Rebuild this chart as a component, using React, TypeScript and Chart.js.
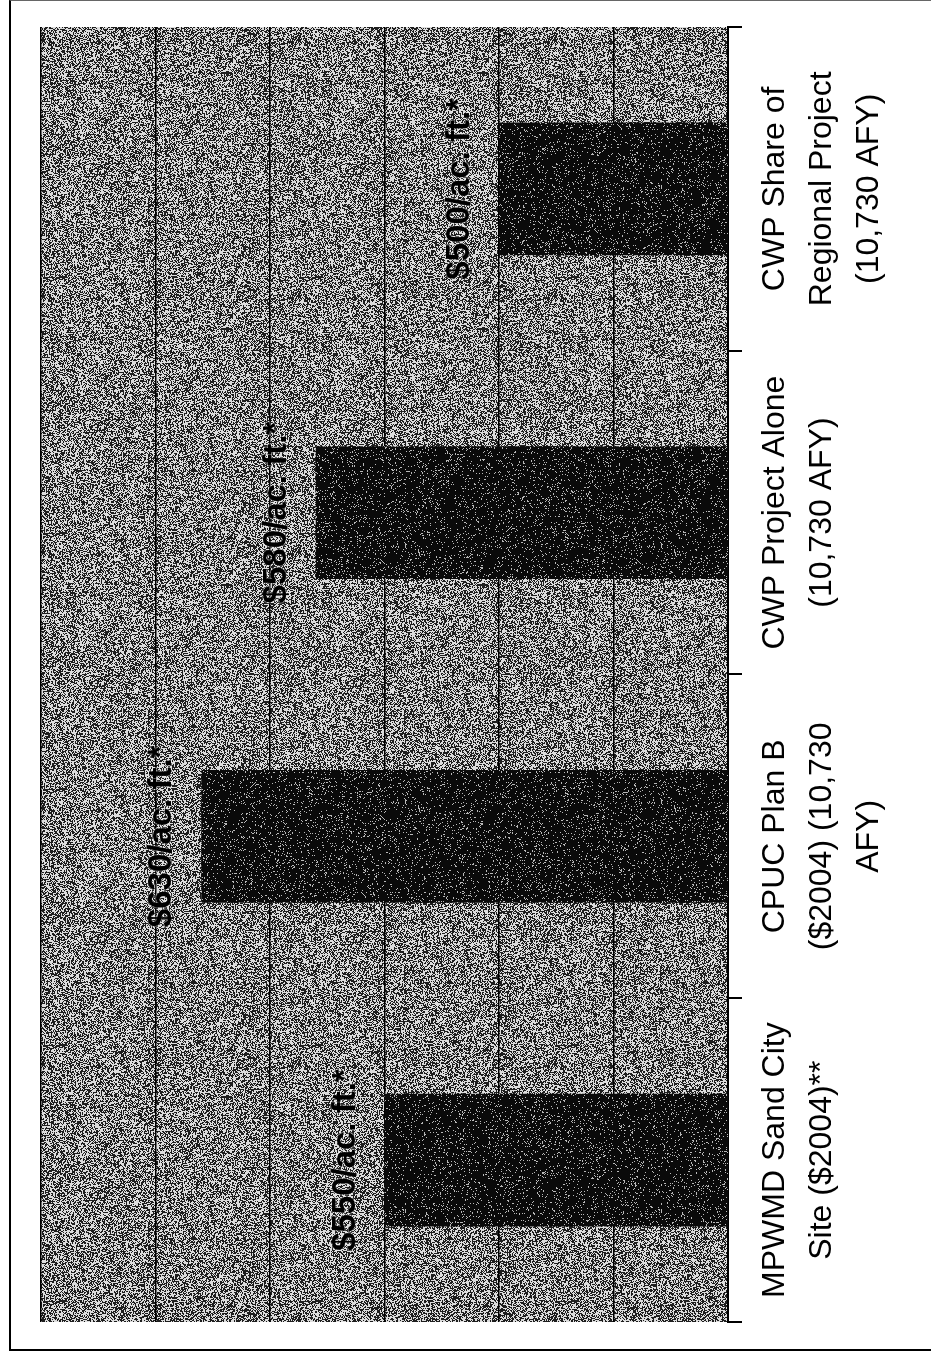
import React, { useEffect, useRef } from "react";
import { Chart, registerables } from "chart.js";

Chart.register(...registerables);

const categories: string[][] = [
  ["MPWMD Sand City", "Site ($2004)**"],
  ["CPUC Plan B", "($2004) (10,730", "AFY)"],
  ["CWP Project Alone", "(10,730 AFY)"],
  ["CWP Share of", "Regional Project", "(10,730 AFY)"],
];
const costPerAcreFoot: number[] = [550, 630, 580, 500];
const valueLabels: string[] = [
  "$550/ac. ft.*",
  "$630/ac. ft.*",
  "$580/ac. ft.*",
  "$500/ac. ft.*",
];
const axisMin = 400;
const axisMax = 700;
const axisStep = 50;

const FONT = '"Liberation Sans", Arial, Helvetica, sans-serif';

function mulberry32(seed: number) {
  let a = seed >>> 0;
  return function () {
    a = (a + 0x6d2b79f5) >>> 0;
    let t = a;
    t = Math.imul(t ^ (t >>> 15), t | 1);
    t ^= t + Math.imul(t ^ (t >>> 7), t | 61);
    return ((t ^ (t >>> 14)) >>> 0) / 4294967296;
  };
}

function makeNoise(
  ctx: CanvasRenderingContext2D,
  pDark: number,
  dark: number,
  light: number,
  seed: number
): CanvasPattern | string {
  const size = 256;
  const c = document.createElement("canvas");
  c.width = size;
  c.height = size;
  const g = c.getContext("2d");
  if (!g) return "#8e8e8e";
  const img = g.createImageData(size, size);
  const next = mulberry32(seed);
  for (let i = 0; i < size * size; i++) {
    const v = next() < pDark ? dark : light;
    img.data[i * 4] = v;
    img.data[i * 4 + 1] = v;
    img.data[i * 4 + 2] = v;
    img.data[i * 4 + 3] = 255;
  }
  g.putImageData(img, 0, 0);
  return ctx.createPattern(c, "repeat") || "#8e8e8e";
}

export default function App() {
  const ref = useRef<HTMLCanvasElement>(null);

  useEffect(() => {
    document.body.style.overflow = "hidden";
    const canvas = ref.current;
    if (!canvas) return;
    const ctx = canvas.getContext("2d");
    if (!ctx) return;
    const bgPattern = makeNoise(ctx, 0.5, 30, 220, 20240611);
    const barPattern = makeNoise(ctx, 0.91, 10, 185, 977);

    const plotBackground = {
      id: "plotBackground",
      beforeDraw(chart: any) {
        const { ctx: c, chartArea } = chart;
        c.save();
        c.fillStyle = bgPattern;
        c.fillRect(
          chartArea.left,
          chartArea.top,
          chartArea.right - chartArea.left,
          chartArea.bottom - chartArea.top
        );
        c.restore();
      },
    };

    const barLabels = {
      id: "barLabels",
      afterDatasetsDraw(chart: any) {
        const c = chart.ctx;
        const meta = chart.getDatasetMeta(0);
        c.save();
        c.font = `bold 33px ${FONT}`;
        c.textAlign = "center";
        c.textBaseline = "middle";
        meta.data.forEach((bar: any, i: number) => {
          const x = bar.x;
          const y = bar.y - 39;
          c.lineWidth = 2;
          c.strokeStyle = "rgba(255,255,255,0.35)";
          c.strokeText(valueLabels[i], x, y);
          c.fillStyle = "#000";
          c.fillText(valueLabels[i], x, y);
        });
        c.restore();
      },
    };

    const chart = new Chart(canvas, {
      type: "bar",
      data: {
        labels: categories,
        datasets: [
          {
            data: costPerAcreFoot,
            backgroundColor: barPattern as any,
            borderWidth: 0,
            barPercentage: 1,
            categoryPercentage: 0.41,
          },
        ],
      },
      options: {
        responsive: false,
        animation: false,
        devicePixelRatio: 1,
        layout: { padding: { left: 31, right: 27, top: 41, bottom: 0 } },
        plugins: {
          legend: { display: false },
          tooltip: { enabled: false },
          title: { display: false },
        },
        scales: {
          x: {
            type: "category",
            position: "bottom",
            grid: {
              offset: true,
              drawOnChartArea: false,
              drawTicks: true,
              tickLength: 14,
              color: "#000",
              lineWidth: 2,
            },
            border: { display: true, color: "#000", width: 2 },
            ticks: {
              autoSkip: false,
              maxRotation: 0,
              minRotation: 0,
              padding: 10,
              color: "#000",
              font: { family: FONT, size: 32, lineHeight: 1.47 },
            },
            afterFit(scale: any) {
              scale.height = 203;
            },
          },
          y: {
            type: "linear",
            min: axisMin,
            max: axisMax,
            ticks: { display: false, stepSize: axisStep },
            grid: {
              drawTicks: false,
              color: "#000",
              lineWidth: 1.5,
            },
            border: { display: false },
            afterFit(scale: any) {
              scale.width = 0;
            },
          },
        },
      },
      plugins: [plotBackground, barLabels],
    });

    return () => chart.destroy();
  }, []);

  return (
    <div>
      <div
        style={{
          position: "absolute",
          left: 0,
          top: 0,
          width: 1353,
          height: 931,
          transformOrigin: "0 0",
          transform: "translate(0px, 1353px) rotate(-90deg)",
        }}
      >
        <canvas
          ref={ref}
          width={1353}
          height={931}
          style={{ display: "block", width: 1353, height: 931 }}
        />
      </div>
      <div
        style={{
          position: "absolute",
          left: 9,
          top: 0,
          width: 930,
          height: 1348,
          borderLeft: "2px solid #000",
          borderTop: "1px solid #666",
          borderBottom: "2px solid #000",
          pointerEvents: "none",
        }}
      />
    </div>
  );
}
